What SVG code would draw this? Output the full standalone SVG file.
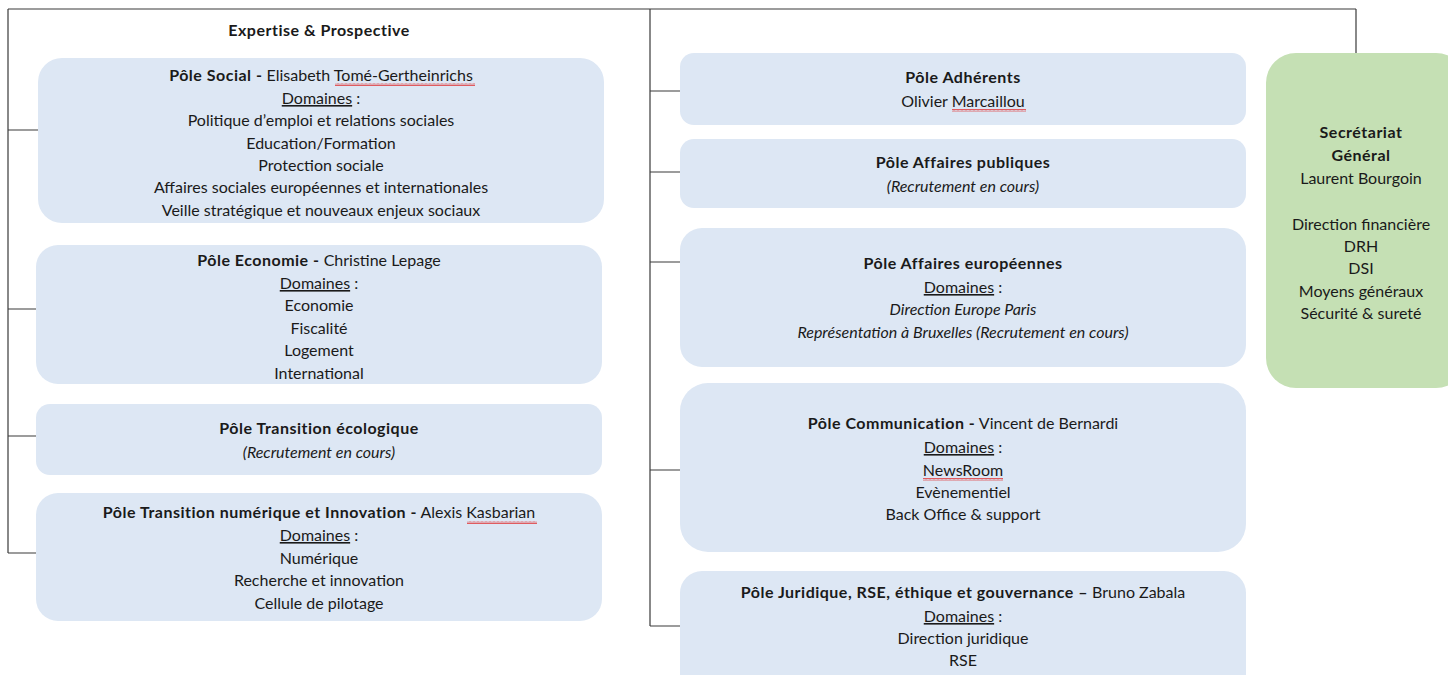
<svg xmlns="http://www.w3.org/2000/svg" width="1448" height="675" viewBox="0 0 1448 675">
<style>
.box{fill:#DDE7F4;}
.sg{fill:#C5E0B4;}
.ln{fill:none;stroke:#3a3a3a;stroke-width:1.2;}
.sq{fill:url(#squig);}
text{font-family:Lato,"Open Sans","Liberation Sans",sans-serif;font-size:16px;fill:#1a1a1a;text-anchor:middle;}
.b{font-weight:bold;letter-spacing:0.5px;}
.i{font-style:italic;}
.u{text-decoration:underline;}
</style>
<defs>
<pattern id="squig" x="0" y="0" width="4" height="3" patternUnits="userSpaceOnUse">
<path d="M0 2.5 L1 0.5 L2 2.5 L3 0.5 L4 2.5" fill="none" stroke="#E02020" stroke-width="0.7"/>
</pattern>
</defs>
<rect width="1448" height="675" fill="#ffffff"/>
<g id="connectors">
<path class="ln" d="M8 9 H1356 M8 9 V553 M8 130 H38 M8 309 H36 M8 436 H36 M8 553 H36"/>
<path class="ln" d="M650 9 V626 M650 91 H680 M650 172 H680 M650 262 H680 M650 470 H680 M650 626 H680"/>
<path class="ln" d="M1356 9 V53"/>
</g>
<g id="header">
<text class="b" x="319" y="36">Expertise &amp; Prospective</text>
</g>
<g id="pole-social">
<rect class="box" x="38" y="58" width="566" height="165" rx="24"/>
<text x="321" y="81"><tspan class="b">Pôle Social -</tspan> Elisabeth Tomé-Gertheinrichs</text>
<rect class="sq" x="335" y="83" width="140" height="3"/>
<text x="321" y="104"><tspan class="u">Domaines</tspan> :</text>
<text x="321" y="126">Politique d’emploi et relations sociales</text>
<text x="321" y="149">Education/Formation</text>
<text x="321" y="171">Protection sociale</text>
<text x="321" y="193">Affaires sociales européennes et internationales</text>
<text x="321" y="216">Veille stratégique et nouveaux enjeux sociaux</text>
</g>
<g id="pole-economie">
<rect class="box" x="36" y="245" width="566" height="139" rx="22"/>
<text x="319" y="266"><tspan class="b">Pôle Economie -</tspan> Christine Lepage</text>
<text x="319" y="289"><tspan class="u">Domaines</tspan> :</text>
<text x="319" y="311">Economie</text>
<text x="319" y="334">Fiscalité</text>
<text x="319" y="356">Logement</text>
<text x="319" y="379">International</text>
</g>
<g id="pole-transition-eco">
<rect class="box" x="36" y="404" width="566" height="71" rx="14"/>
<text class="b" x="319" y="434">Pôle Transition écologique</text>
<text class="i" x="319" y="458">(Recrutement en cours)</text>
</g>
<g id="pole-transition-num">
<rect class="box" x="36" y="493" width="566" height="128" rx="22"/>
<text x="319" y="518"><tspan class="b">Pôle Transition numérique et Innovation -</tspan> Alexis Kasbarian</text>
<rect class="sq" x="467" y="521" width="70" height="3"/>
<text x="319" y="541"><tspan class="u">Domaines</tspan> :</text>
<text x="319" y="564">Numérique</text>
<text x="319" y="586">Recherche et innovation</text>
<text x="319" y="609">Cellule de pilotage</text>
</g>
<g id="pole-adherents">
<rect class="box" x="680" y="53" width="566" height="72" rx="14"/>
<text class="b" x="963" y="83">Pôle Adhérents</text>
<text x="963" y="107">Olivier Marcaillou</text>
<rect class="sq" x="952" y="109" width="74" height="3"/>
</g>
<g id="pole-affaires-publiques">
<rect class="box" x="680" y="139" width="566" height="69" rx="14"/>
<text class="b" x="963" y="168">Pôle Affaires publiques</text>
<text class="i" x="963" y="192">(Recrutement en cours)</text>
</g>
<g id="pole-affaires-europeennes">
<rect class="box" x="680" y="228" width="566" height="139" rx="22"/>
<text class="b" x="963" y="269">Pôle Affaires européennes</text>
<text x="963" y="293"><tspan class="u">Domaines</tspan> :</text>
<text class="i" x="963" y="315">Direction Europe Paris</text>
<text class="i" x="963" y="338">Représentation à Bruxelles (Recrutement en cours)</text>
</g>
<g id="pole-communication">
<rect class="box" x="680" y="383" width="566" height="169" rx="28"/>
<text x="963" y="429"><tspan class="b">Pôle Communication -</tspan> Vincent de Bernardi</text>
<text x="963" y="453"><tspan class="u">Domaines</tspan> :</text>
<text x="963" y="476">NewsRoom</text>
<rect class="sq" x="923" y="478" width="80" height="3"/>
<text x="963" y="498">Evènementiel</text>
<text x="963" y="520">Back Office &amp; support</text>
</g>
<g id="pole-juridique">
<rect class="box" x="680" y="571" width="566" height="130" rx="22"/>
<text x="963" y="598"><tspan class="b">Pôle Juridique, RSE, éthique et gouvernance –</tspan> Bruno Zabala</text>
<text x="963" y="622"><tspan class="u">Domaines</tspan> :</text>
<text x="963" y="644">Direction juridique</text>
<text x="963" y="666">RSE</text>
</g>
<g id="secretariat-general">
<rect class="sg" x="1266" y="53" width="200" height="335" rx="30"/>
<text class="b" x="1361" y="138">Secrétariat</text>
<text class="b" x="1361" y="161">Général</text>
<text x="1361" y="184">Laurent Bourgoin</text>
<text x="1361" y="230">Direction financière</text>
<text x="1361" y="252">DRH</text>
<text x="1361" y="274">DSI</text>
<text x="1361" y="297">Moyens généraux</text>
<text x="1361" y="319">Sécurité &amp; sureté</text>
</g>
</svg>
